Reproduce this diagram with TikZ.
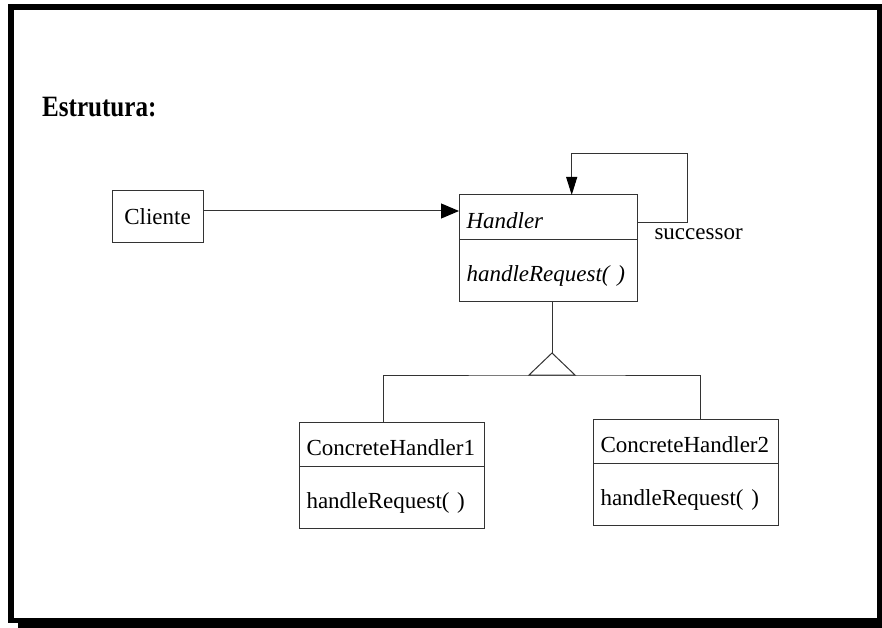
\documentclass[tikz,border=0pt]{standalone}
\usepackage{fontspec}
\setmainfont{Liberation Serif}
\newfontfamily\titlefont{Liberation Serif}[FakeStretch=0.85]
\usetikzlibrary{arrows.meta,positioning}

\begin{document}
\begin{tikzpicture}[x=1pt,y=-1pt,
		font=\fontsize{23}{27}\selectfont,
		box/.style={draw=black!80, line width=1pt, outer sep=0pt},
		classpart/.style={box, inner xsep=7.5pt, inner ysep=0pt, text width=#1, align=left, text height=23pt, text depth=0pt},
		link/.style={draw=black!80, line width=1pt}]
	\useasboundingbox (0,0) rectangle (882,628);
	\clip (0,0) rectangle (882,628);
	\fill[black] (18,14) rectangle (893,628);
	\fill[black] (8,4) rectangle (883,623);
	\fill[white] (14,10) rectangle (877,618);

	\node[anchor=base west, inner xsep=0pt, font=\titlefont\fontsize{29.5}{33}\selectfont\bfseries] (title) at (42,117) {Estrutura:};

	\node[box, minimum width=91pt, minimum height=51pt] (cliente) at (157.5,216.5) {Cliente};
	\node[classpart=163pt, minimum height=44pt, anchor=north west] (handler) at (459,195) {\textit{Handler}};
	\node[classpart=163pt, minimum height=62pt, below=0pt of handler] (handlerops) {\textit{handleRequest( )}};
	\node[classpart=170pt, minimum height=44pt, anchor=north west] (concrete1) at (299,422) {ConcreteHandler1};
	\node[classpart=170pt, minimum height=62pt, below=0pt of concrete1] (concrete1ops) {handleRequest( )};
	\node[classpart=170pt, minimum height=44pt, anchor=north west] (concrete2) at (593,419) {ConcreteHandler2};
	\node[classpart=170pt, minimum height=62pt, below=0pt of concrete2] (concrete2ops) {handleRequest( )};

	\coordinate (clienteout) at ([yshift=5.5pt]cliente.east);
	\draw[link, -{Triangle[length=18pt, width=15pt, black]}] (clienteout) -- (clienteout -| handler.west);

	\draw[link, -{Triangle[length=18pt, width=11pt, black]}] ([yshift=-5pt]handler.east) -- ++(50,0) -- ++(0,-68.4) -| ([xshift=23.7pt]handler.north);
	\node[anchor=base west] (succ) at (651,240) {successor};

	\coordinate (apex) at ([xshift=4pt, yshift=-52pt]handlerops.south);
	\coordinate (tribase) at ([yshift=-22pt]apex);
	\draw[link] ([xshift=4pt]handlerops.south) -- (apex);
	\draw[link] (apex) -- ++(-23,22) -- ++(46,0) -- cycle;
	\draw[link] ([xshift=-8.5pt]concrete1.north) |- (tribase) -| ([xshift=15pt]concrete2.north);
\end{tikzpicture}
\end{document}
